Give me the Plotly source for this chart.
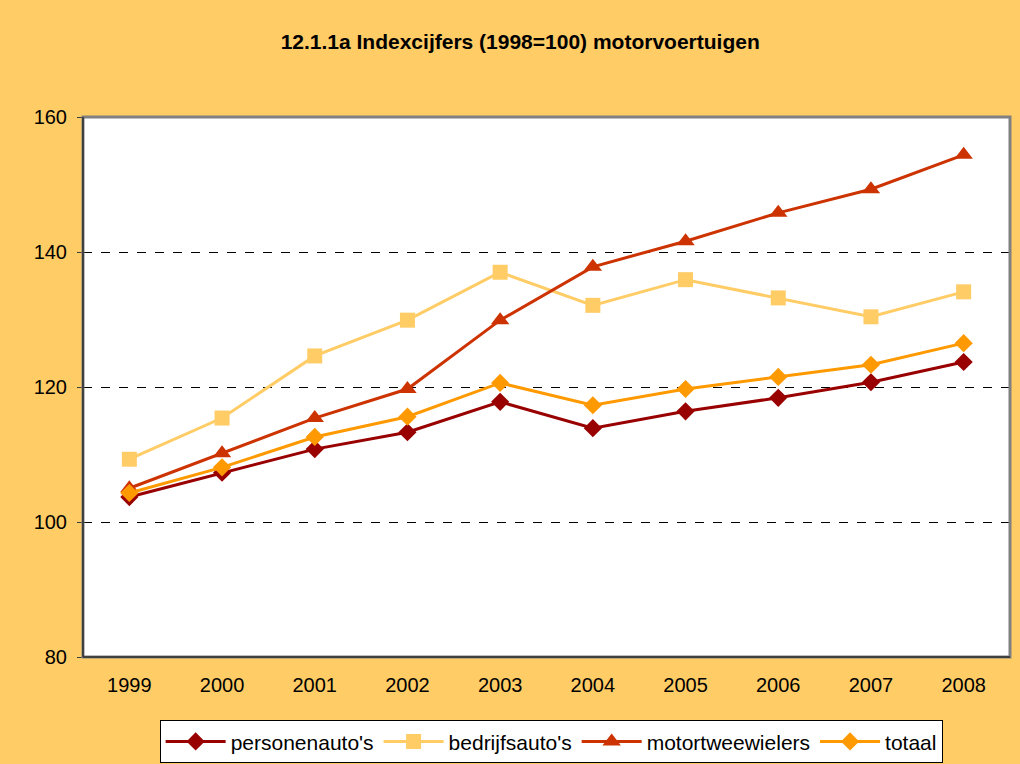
import plotly.graph_objects as go

years = ["1999", "2000", "2001", "2002", "2003", "2004", "2005", "2006", "2007", "2008"]
personenautos = [103.7, 107.3, 110.8, 113.3, 117.8, 113.9, 116.4, 118.4, 120.7, 123.7]
bedrijfsautos = [109.3, 115.4, 124.6, 129.9, 137.0, 132.1, 135.9, 133.2, 130.4, 134.1]
motortweewielers = [105.0, 110.2, 115.4, 119.7, 129.9, 137.8, 141.6, 145.8, 149.3, 154.4]
totaal = [104.3, 108.1, 112.6, 115.6, 120.6, 117.3, 119.7, 121.5, 123.3, 126.5]
y_ticks = [80, 100, 120, 140, 160]

series = [
    ("personenauto's", personenautos, "#990000", "diamond", 14),
    ("bedrijfsauto's", bedrijfsautos, "#FFCC66", "square", 15),
    ("motortweewielers", motortweewielers, "#CC3300", "triangle-up", 16),
    ("totaal", totaal, "#FF9900", "diamond", 14),
]

fig = go.Figure()
for name, vals, color, sym, size in series:
    fig.add_trace(go.Scatter(
        x=years, y=vals, name=name, mode="lines+markers",
        line=dict(color=color, width=3),
        marker=dict(symbol=sym, size=size, color=color),
    ))

fig.update_layout(
    width=1020, height=764,
    paper_bgcolor="#FFCC66", plot_bgcolor="#FFFFFF",
    margin=dict(l=83, r=10, t=117, b=107, autoexpand=False),
    font=dict(family="Liberation Sans, Arial, sans-serif", size=20, color="#000000"),
    title=dict(text="<b>12.1.1a Indexcijfers (1998=100) motorvoertuigen</b>",
               x=0.51, xanchor="center", y=1 - 42 / 764, yanchor="middle",
               font=dict(size=21)),
    showlegend=True,
    legend=dict(orientation="h", x=0.505, xanchor="center", y=-0.157, yanchor="middle",
                bgcolor="#FFFFFF", bordercolor="#000000", borderwidth=1,
                font=dict(size=21), itemwidth=60, tracegroupgap=0),
    xaxis=dict(type="category", range=[-0.5, 9.5], showgrid=False, ticks="", showline=False,
               tickfont=dict(size=20), ticklabelstandoff=14, fixedrange=True),
    yaxis=dict(range=[80, 160], tickvals=y_ticks, showgrid=True, gridcolor="#000000",
               griddash="dash", gridwidth=1, ticks="outside", ticklen=5,
               tickcolor="#404040", showline=False, zeroline=False,
               tickfont=dict(size=20), ticklabelstandoff=6, fixedrange=True),
)

# plot border: gray top/right, dark left/bottom
fig.add_shape(type="rect", xref="paper", yref="paper", x0=0, x1=1, y0=0, y1=1,
              line=dict(color="#808080", width=3), fillcolor="rgba(0,0,0,0)", layer="above")
fig.add_shape(type="line", xref="paper", yref="paper", x0=0, x1=0, y0=0, y1=1,
              line=dict(color="#404040", width=2), layer="above")
fig.add_shape(type="line", xref="paper", yref="paper", x0=0, x1=1, y0=0, y1=0,
              line=dict(color="#404040", width=2), layer="above")

fig.write_html("out.html", config={"displayModeBar": False},
               post_script="document.body.style.margin='0px';document.body.style.overflow='hidden';")
